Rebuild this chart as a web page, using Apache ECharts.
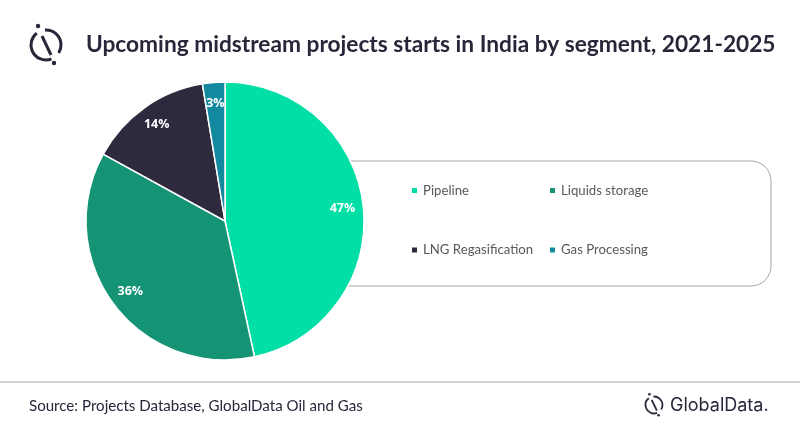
<!DOCTYPE html>
<html><head><meta charset="utf-8">
<style>html,body{margin:0;padding:0;background:#fff}#c{width:800px;height:428px}</style>
<script src="https://cdn.jsdelivr.net/npm/echarts@6/dist/echarts.min.js"></script>
</head><body><div id="c"></div>
<script>
const categories = ['Pipeline','Liquids storage','LNG Regasification','Gas Processing'];
const shares = [46.6,36.4,14.4,2.6];
const colours = ['#02DFA6','#149474','#2E293D','#13899F'];
const titleText = 'Upcoming midstream projects starts in India by segment, 2021-2025';
const sourceText = 'Source: Projects Database, GlobalData Oil and Gas';
const brandText = 'GlobalData.';
const CX = 225, CY = 221, R = 139, LABEL_PUSH = 0.63;
const ink = '#2A2639';

function logo(cx, cy, r, lw, dot){
  const s = r/15, d = Math.PI/180;
  return [
    {type:'arc',z:5,shape:{cx,cy,r,startAngle:-94*d,endAngle:32*d,clockwise:true},style:{stroke:ink,lineWidth:lw,fill:null}},
    {type:'arc',z:5,shape:{cx,cy,r,startAngle:69*d,endAngle:232*d,clockwise:true},style:{stroke:ink,lineWidth:lw,fill:null}},
    {type:'line',z:5,shape:{x1:cx-4*s,y1:cy-9*s,x2:cx+5*s,y2:cy+10*s},style:{stroke:ink,lineWidth:lw}},
    {type:'circle',z:5,shape:{cx:cx-8*s,cy:cy-19*s,r:dot},style:{fill:ink}},
    {type:'circle',z:5,shape:{cx:cx+8*s,cy:cy+18*s,r:dot},style:{fill:ink}}
  ];
}
const chart = echarts.init(document.getElementById('c'),null,{renderer:'canvas'});
const legendBase = {orient:'vertical',itemWidth:7,itemHeight:7,itemGap:46.5,icon:'rect',
  textStyle:{fontFamily:'Lato',fontSize:13.2,color:'#595959',padding:[0,0,0,0]}};
chart.setOption({
  animation:false,
  backgroundColor:'#fff',
  color:colours,
  title:{text:titleText,left:81,top:28,textStyle:{fontFamily:'Lato',fontWeight:'bold',fontSize:22.7,color:ink}},
  legend:[
    Object.assign({},legendBase,{left:405,top:179,data:[categories[0],categories[2]]}),
    Object.assign({},legendBase,{left:543,top:179,data:[categories[1],categories[3]]})
  ],
  graphic:{elements:[
    {type:'rect',z:-1,shape:{x:300,y:161,width:471,height:125,r:20},style:{fill:'#fff',stroke:'#A6A6A6',lineWidth:1}},
    {type:'line',shape:{x1:0,y1:382,x2:800,y2:382},style:{stroke:'#A6A6A6',lineWidth:1}},
    {type:'text',x:29,y:398.5,style:{text:sourceText,fontFamily:'Lato',fontSize:15.1,fill:ink}},
    {type:'text',x:670,y:397,style:{text:brandText,fontFamily:'Inter',fontSize:18,fill:ink}},
    ...logo(46,45,15,3,2.2),
    ...logo(654,405,8.5,1.8,1.3)
  ]},
  series:[{
    type:'pie',center:[CX,CY],radius:[0,R],startAngle:90,clockwise:true,z:3,
    itemStyle:{borderColor:'#fff',borderWidth:1.5},
    label:{show:true,position:'inside',formatter:'{d}%',fontFamily:'Open Sans',fontWeight:'bold',fontSize:12.5,color:'#fff'},
    labelLine:{show:false},
    percentPrecision:0,
    labelLayout:function(p){
      const r=p.labelRect, lx=r.x+r.width/2, ly=r.y+r.height/2;
      return {dx:(lx-CX)*LABEL_PUSH,dy:(ly-CY)*LABEL_PUSH};
    },
    data:categories.map((n,i)=>({name:n,value:shares[i]}))
  }]
});
</script></body></html>
